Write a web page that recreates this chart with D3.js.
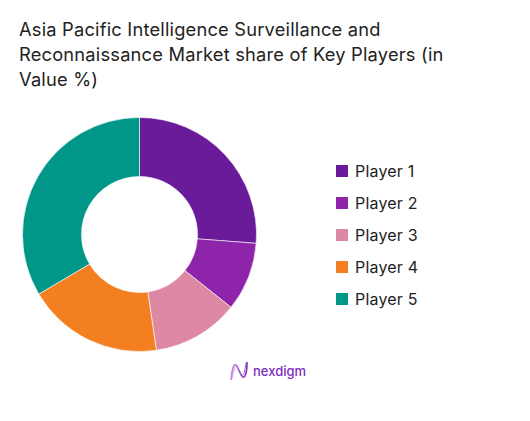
<!DOCTYPE html>
<html><head><meta charset="utf-8">
<script src="https://cdn.jsdelivr.net/npm/d3@7"></script>
<style>body{margin:0;background:#fff}svg{display:block}</style>
</head><body>
<svg id="c" width="530" height="421"></svg>
<script>
const titleLines = ["Asia Pacific Intelligence Surveillance and", "Reconnaissance Market share of Key Players (in", "Value %)"];
const players = ["Player 1", "Player 2", "Player 3", "Player 4", "Player 5"];
const shares = [26.2, 9.5, 12, 18.8, 33.5];
const colors = ["#6a1b9a", "#8e24aa", "#de89a3", "#f47f20", "#009688"];

const svg = d3.select("#c");
const font = "Inter, 'Open Sans', sans-serif";

svg.append("g").selectAll("text").data(titleLines).join("text")
  .attr("x", 19).attr("y", (d, i) => 36 + i * 25)
  .attr("font-family", font).attr("font-size", 18.3).attr("letter-spacing", 0.2).attr("fill", "#222")
  .text(d => d);

const data = players.map((p, i) => ({name: p, value: shares[i]}));
const pie = d3.pie().value(d => d.value).sort(null);
const arc = d3.arc().innerRadius(58).outerRadius(117);
const color = d3.scaleOrdinal().domain(players).range(colors);

svg.append("g").attr("transform", "translate(139.5,234.5)")
  .selectAll("path").data(pie(data)).join("path")
  .attr("d", arc).attr("fill", d => color(d.data.name))
  .attr("stroke", "#fff").attr("stroke-width", 0.6);

const ly = d3.scalePoint().domain(players).range([171, 299]);
const lg = svg.append("g");
lg.selectAll("rect").data(players).join("rect")
  .attr("x", 336).attr("y", d => ly(d) - 6).attr("width", 12).attr("height", 12)
  .attr("fill", d => color(d));
lg.selectAll("text").data(players).join("text")
  .attr("x", 355).attr("y", d => ly(d)).attr("dy", "0.35em")
  .attr("font-family", font).attr("font-size", 16).attr("letter-spacing", 0.2).attr("fill", "#222")
  .text(d => d);

// logo
const logo = svg.append("g");
const grad = svg.append("defs").append("linearGradient").attr("id", "lgd");
grad.append("stop").attr("offset", "0").attr("stop-color", "#c38be0");
grad.append("stop").attr("offset", "1").attr("stop-color", "#7b2cbf");
logo.append("path").attr("d", "M231,380 C232,368 234,362 237,366 C240,372 242,380 245,376 C247,372 247,366 247,362")
  .attr("fill", "none").attr("stroke", "url(#lgd)").attr("stroke-width", 1.6);
logo.append("path").attr("d", "M232,379 C234,366 236,364 239,370 C242,378 244,378 246,363")
  .attr("fill", "none").attr("stroke", "url(#lgd)").attr("stroke-width", 0.8);
logo.append("text").attr("x", 253).attr("y", 376)
  .attr("font-family", font).attr("font-size", 13).attr("font-weight", 500).attr("fill", "#7b2cbf")
  .text("nexdigm");
</script>
</body></html>
